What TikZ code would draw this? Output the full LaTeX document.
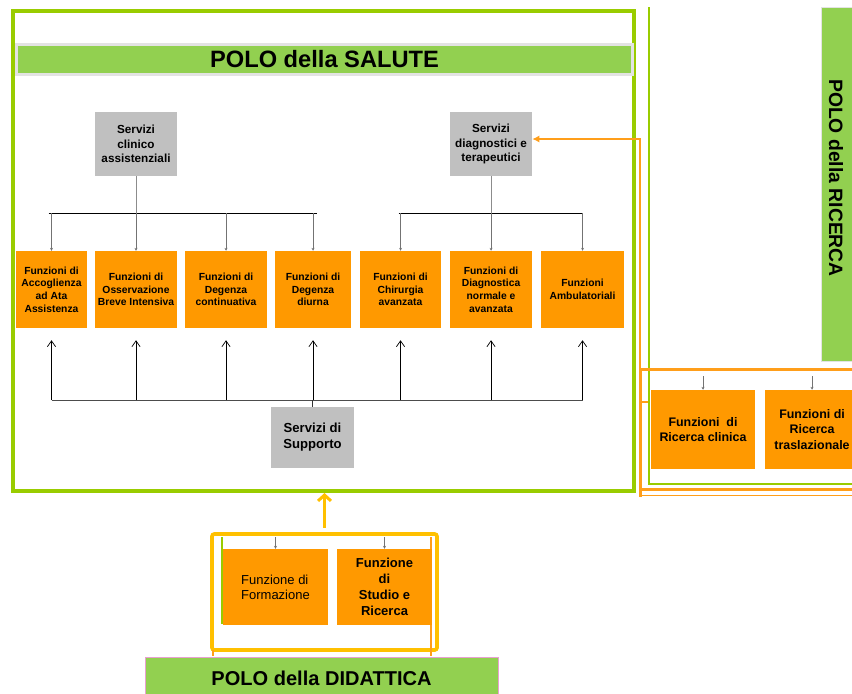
\documentclass[tikz,border=0pt]{standalone}
\usepackage{fontspec}
\setmainfont{Liberation Sans}
\usetikzlibrary{arrows.meta,positioning,calc}

\definecolor{poloGreen}{HTML}{92D050}
\definecolor{frameGreen}{HTML}{99CC00}
\definecolor{funzOrange}{HTML}{FF9900}
\definecolor{lineOrange}{HTML}{FF9E1A}
\definecolor{servGray}{HTML}{C0C0C0}
\definecolor{barGray}{HTML}{E3E3E3}
\definecolor{barPink}{HTML}{E8A0D0}
\definecolor{didYellow}{HTML}{FFC000}

\begin{document}
\begin{tikzpicture}[x=0.03cm, y=-0.03cm, node distance=2.6cm]
	%defines
	\tikzstyle{saluteframe} = [rectangle, draw=frameGreen, line width=0.12cm, minimum width=18.615cm, minimum height=14.4cm, inner sep=0pt]
	\tikzstyle{yellowframe} = [rectangle, rounded corners=2pt, draw=didYellow, line width=0.11cm, minimum width=6.75cm, minimum height=3.48cm, inner sep=0pt]
	\tikzstyle{polo} = [rectangle, fill=poloGreen, inner sep=0pt, text centered]
	\tikzstyle{titletext} = [font=\bfseries\fontsize{20.2}{24}\selectfont]
	\tikzstyle{servizi} = [rectangle, fill=servGray, minimum width=2.46cm, minimum height=1.92cm, align=center, inner sep=0pt, font=\bfseries\fontsize{10}{12.4}\selectfont]
	\tikzstyle{funzione} = [rectangle, fill=funzOrange, minimum width=2.46cm, minimum height=2.31cm, align=center, inner sep=0pt, font=\bfseries\fontsize{8.8}{10.9}\selectfont]
	\tikzstyle{ricercafont} = [font=\bfseries\fontsize{10.6}{13}\selectfont]
	\tikzstyle{bus} = [line width=0.7pt, draw=black]
	\tikzstyle{stem} = [line width=0.7pt, draw=black!45]
	\tikzstyle{drop} = [->, >={Stealth[length=2.5pt,width=2.5pt]}, line width=0.6pt, draw=black!55]
	\tikzstyle{uparrow} = [->, >={Straight Barb[length=5pt,width=7pt]}, line width=0.6pt, draw=black]
	\tikzstyle{orangeline} = [line width=0.09cm, draw=lineOrange]
	\tikzstyle{orangethin} = [line width=1pt, draw=lineOrange]
	\tikzstyle{greenthin} = [line width=1.1pt, draw=frameGreen]
	\tikzstyle{orangearrow} = [->, >={Latex[length=6pt,width=6pt]}, line width=0.07cm, draw=lineOrange]
	\tikzstyle{yellowarrow} = [->, >={Straight Barb[length=5pt,width=11pt]}, line width=0.09cm, draw=didYellow]
	\useasboundingbox (0,0) rectangle (852,693);
	\clip (0,0) rectangle (852,693);
	%polo della salute
	\node (saluteFrame) [saluteframe] at (323.75,251) {};
	\node (saluteBar) [polo, titletext, draw=barGray, line width=0.09cm, minimum width=18.48cm, minimum height=0.9cm] at (324.5,59.5) {POLO della SALUTE};
	\node (clinico) [servizi] at (136,144) {Servizi\\clinico\\assistenziali};
	\node (diagnostici) [servizi] at (491,144) {Servizi\\diagnostici e\\terapeutici};
	\node (fnAccoglienza) [funzione, minimum width=2.13cm] at (51.5,289.5) {Funzioni di\\Accoglienza\\ad Ata\\Assistenza};
	\node (fnOsservazione) [funzione, right of=fnAccoglienza, node distance=2.535cm] {Funzioni di\\Osservazione\\Breve Intensiva};
	\node (fnDegenzaCont) [funzione, right of=fnOsservazione, node distance=2.7cm] {Funzioni di\\Degenza\\continuativa};
	\node (fnDegenzaDiurna) [funzione, minimum width=2.28cm, right of=fnDegenzaCont, node distance=2.61cm] {Funzioni di\\Degenza\\diurna};
	\node (fnChirurgia) [funzione, minimum width=2.43cm, right of=fnDegenzaDiurna, node distance=2.625cm] {Funzioni di\\Chirurgia\\avanzata};
	\node (fnDiagnostica) [funzione, right of=fnChirurgia, node distance=2.715cm] {Funzioni di\\Diagnostica\\normale e\\avanzata};
	\node (fnAmbulatoriali) [funzione, minimum width=2.49cm, right of=fnDiagnostica, node distance=2.745cm] {Funzioni\\Ambulatoriali};
	\node (supporto) [servizi, minimum width=2.49cm, minimum height=1.83cm, font=\bfseries\fontsize{11.2}{13.7}\selectfont] at (312.5,437.5) {Servizi di\\Supporto};
	\coordinate (busTop) at (0,213);
	\coordinate (busBottom) at (0,400);
	\draw [stem] (clinico) -- (clinico |- busTop);
	\draw [stem] (diagnostici) -- (diagnostici |- busTop);
	\draw [bus] ($(fnAccoglienza.north |- busTop)+(-3,0)$) -- ($(fnDegenzaDiurna.north |- busTop)+(4,0)$);
	\draw [bus] ($(fnChirurgia.north |- busTop)+(-2,0)$) -- (fnAmbulatoriali.north |- busTop);
	\foreach \f in {fnAccoglienza,fnOsservazione,fnDegenzaCont,fnDegenzaDiurna,fnChirurgia,fnDiagnostica,fnAmbulatoriali}
		\draw [drop] (\f.north |- busTop) -- (\f.north);
	\draw [bus, draw=black!70] (fnAccoglienza.south |- busBottom) -- (fnAmbulatoriali.south |- busBottom);
	\draw [bus, draw=black!80] (supporto) -- (supporto |- busBottom);
	\foreach \f in {fnAccoglienza,fnOsservazione,fnDegenzaCont,fnDegenzaDiurna,fnChirurgia,fnDiagnostica,fnAmbulatoriali}
		\draw [uparrow] (\f.south |- busBottom) -- ($(\f.south)+(0,12)$);
	%polo della ricerca
	\coordinate (ricercaCorner) at (640,369);
	\coordinate (ricercaTop) at (0,376);
	\draw [greenthin] (649,7) -- (649,484) -- (860,484);
	\draw [orangeline] (860,369) -- (ricercaCorner) -- (640,497);
	\draw [orangeline] (640,489) -- (860,489);
	\draw [orangethin] (640,495.5) -- (860,495.5);
	\draw [orangethin] (640,402) -- (648,402);
	\draw [orangearrow] (ricercaCorner) |- ($(diagnostici.east)+(0,-5)$);
	\node (fnRicercaClinica) [funzione, ricercafont, minimum width=3.12cm, minimum height=2.37cm] at (703,429.5) {Funzioni\ \ di\\Ricerca clinica};
	\node (fnTraslazionale) [funzione, ricercafont, minimum width=2.82cm, minimum height=2.37cm, right of=fnRicercaClinica, node distance=3.27cm] {Funzioni di\\Ricerca\\traslazionale};
	\foreach \f in {fnRicercaClinica,fnTraslazionale}
		\draw [drop] (\f.north |- ricercaTop) -- (\f.north);
	\node (ricercaBar) [polo, draw=barGray, line width=0.6pt, minimum width=0.93cm, minimum height=10.62cm] at (836.5,184) {};
	\node (ricercaTitle) [titletext, font=\bfseries\fontsize{16.5}{20}\selectfont, rotate=-90] at (836,178) {POLO della RICERCA};
	%polo della didattica
	\coordinate (didatticaTop) at (0,537);
	\node (didatticaFrame) [yellowframe] at (324.5,592) {};
	\draw [yellowarrow, shorten <=0.12cm] (didatticaFrame.north) -- (didatticaFrame.north |- saluteFrame.south);
	\draw [greenthin] (222,537) -- (222,624);
	\draw [orangethin] (431,537) -- (431,656);
	\draw [orangethin] (213,650) -- (213,656);
	\node (fnFormazione) [funzione, minimum width=3.15cm, minimum height=2.28cm, font=\fontsize{11.1}{13}\selectfont, align=left] at (275.5,587) {Funzione di\\Formazione};
	\node (fnStudio) [funzione, minimum width=2.85cm, minimum height=2.28cm, font=\bfseries\fontsize{11.1}{13.7}\selectfont, right of=fnFormazione, node distance=3.27cm] {Funzione\\di\\Studio e\\Ricerca};
	\foreach \f in {fnFormazione,fnStudio}
		\draw [drop] (\f.north |- didatticaTop) -- (\f.north);
	\node (didatticaBar) [polo, draw=barPink, line width=0.6pt, minimum width=10.59cm, minimum height=1.29cm, font=\bfseries\fontsize{17.1}{20}\selectfont] at (321.5,678.5) {POLO della DIDATTICA};
\end{tikzpicture}
\end{document}
